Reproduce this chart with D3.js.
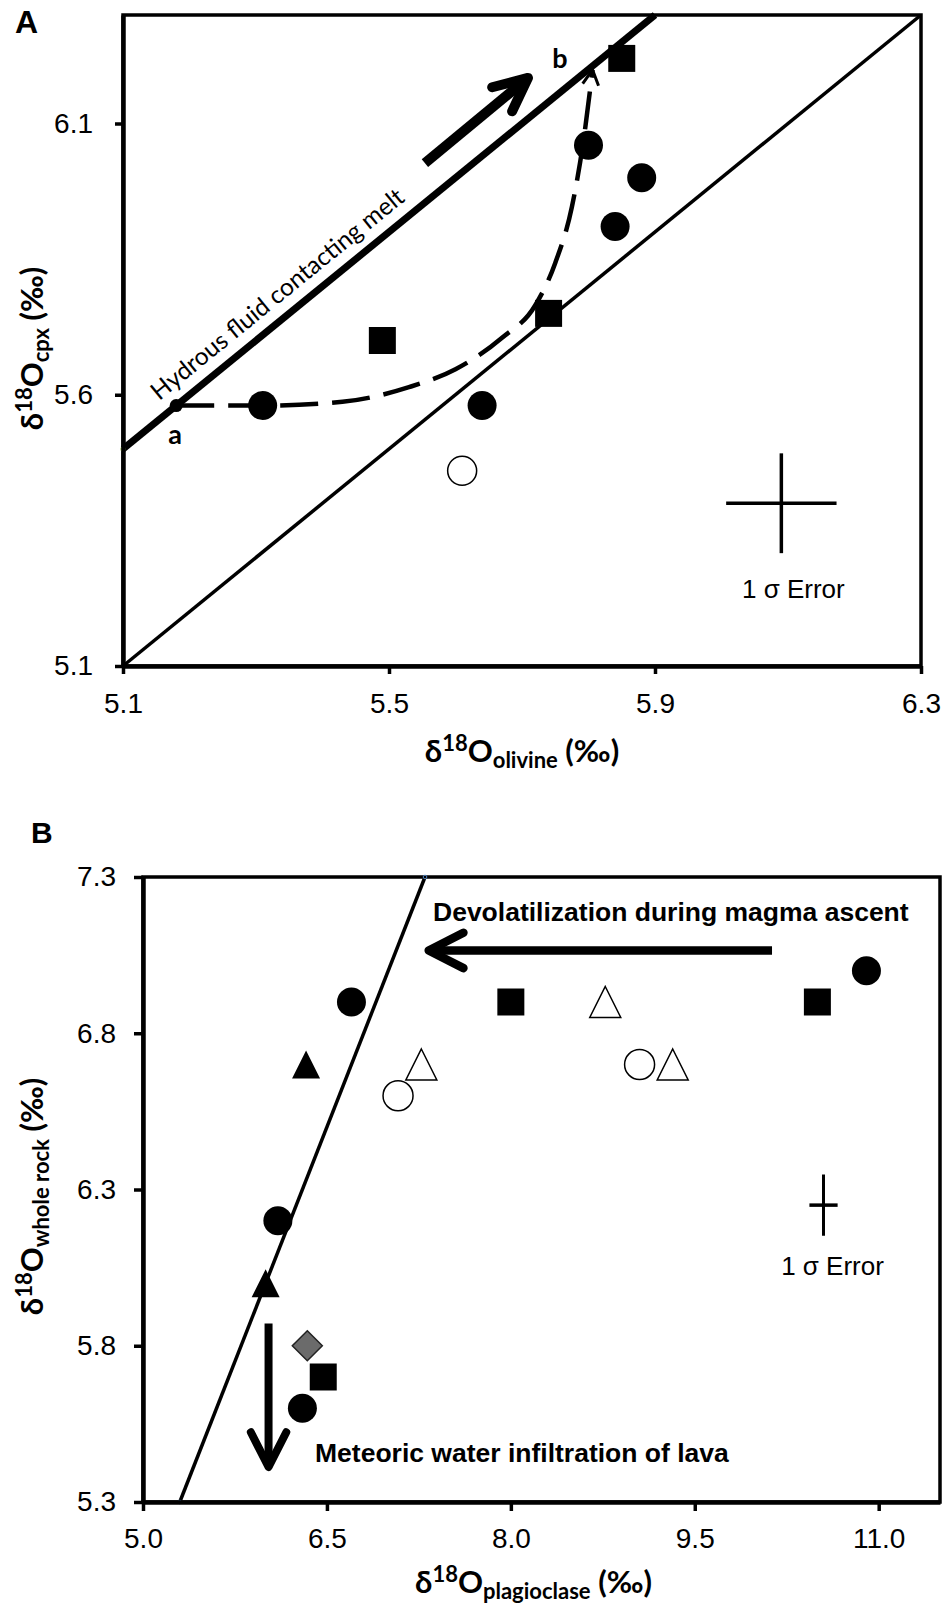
<!DOCTYPE html>
<html><head><meta charset="utf-8">
<script src="https://cdn.jsdelivr.net/npm/d3@7"></script>
<style>body{margin:0;background:#fff}</style>
</head><body>
<svg id="c" width="947" height="1619" xmlns="http://www.w3.org/2000/svg"></svg>
<script>
// ---------- Panel A data ----------
const aXTicks = [5.1, 5.5, 5.9, 6.3];
const aYTicks = [5.1, 5.6, 6.1];
const aFilledCircleX = [5.31, 5.64, 5.80, 5.88, 5.84];
const aFilledCircleY = [5.58, 5.58, 6.06, 6.00, 5.91];
const aSquareX = [5.49, 5.74, 5.85];
const aSquareY = [5.70, 5.75, 6.22];
const aOpenCircleX = [5.61];
const aOpenCircleY = [5.46];
const aOneToOneX = [5.1, 6.3];
const aOneToOneY = [5.1, 6.3];
const aHydrousX = [5.1, 5.9];
const aHydrousY = [5.5, 6.3];
const aPathX = [5.18, 5.31, 5.43, 5.53, 5.60, 5.67, 5.72, 5.75, 5.775, 5.794, 5.806];
const aPathY = [5.58, 5.58, 5.587, 5.614, 5.647, 5.705, 5.765, 5.843, 5.946, 6.082, 6.199];
const aPointA = [5.18, 5.58];
const aErrorCenter = [6.09, 5.40];
const aErrorSize = [0.083, 0.092];
const aArrowFrom = [5.554, 6.027];
const aArrowTo = [5.709, 6.184];

// ---------- Panel B data ----------
const bXTicks = [5.0, 6.5, 8.0, 9.5, 11.0];
const bYTicks = [5.3, 5.8, 6.3, 6.8, 7.3];
const bFilledCircleX = [6.70, 6.10, 6.30, 10.90];
const bFilledCircleY = [6.90, 6.20, 5.60, 7.00];
const bSquareX = [8.0, 10.5, 6.47];
const bSquareY = [6.9, 6.9, 5.7];
const bFilledTriX = [6.33, 6.00];
const bFilledTriY = [6.70, 6.00];
const bOpenTriX = [7.27, 8.77, 9.32];
const bOpenTriY = [6.70, 6.90, 6.70];
const bOpenCircleX = [7.08, 9.05];
const bOpenCircleY = [6.60, 6.70];
const bDiamondX = [6.34];
const bDiamondY = [5.80];
const bLineX = [5.3, 7.3];
const bLineY = [5.3, 7.3];
const bErrorCenter = [10.55, 6.25];
const bErrorSize = [0.115, 0.098];
const bDevolFrom = [10.13, 7.065];
const bDevolTo = [7.33, 7.065];
const bMeteorFrom = [6.024, 5.871];
const bMeteorTo = [6.024, 5.412];

const svg = d3.select('#c');
const AX = "'Liberation Sans', Arial, sans-serif";
const CAL = "Lato, 'Open Sans', sans-serif";

// ---------- helpers ----------
const triSym = {draw(ctx, size){const h=Math.sqrt(size); ctx.moveTo(0,-h/2); ctx.lineTo(h/2,h/2); ctx.lineTo(-h/2,h/2); ctx.closePath();}};
const diaSym = {draw(ctx, size){const h=Math.sqrt(size)/2; ctx.moveTo(0,-h); ctx.lineTo(h,0); ctx.lineTo(0,h); ctx.lineTo(-h,0); ctx.closePath();}};
const sqSym = {draw(ctx, size){const h=Math.sqrt(size)/2; ctx.rect(-h,-h,2*h,2*h);}};

function markers(g, xs, ys, x, y, type, size, fill, stroke, sw){
  const data = xs.map((v,i)=>[v, ys[i]]);
  g.selectAll(null).data(data).enter().append('path')
    .attr('d', d3.symbol().type(type).size(size))
    .attr('transform', d=>`translate(${x(d[0])},${y(d[1])})`)
    .attr('fill', fill).attr('stroke', stroke||'none').attr('stroke-width', sw||0);
}
function headPts(p1, p2, headLen, headAng){
  const dx=p2[0]-p1[0], dy=p2[1]-p1[1], L=Math.hypot(dx,dy);
  const bx=-dx/L, by=-dy/L, a=headAng*Math.PI/180;
  const r1=[p2[0]+headLen*(bx*Math.cos(a)-by*Math.sin(a)), p2[1]+headLen*(bx*Math.sin(a)+by*Math.cos(a))];
  const r2=[p2[0]+headLen*(bx*Math.cos(-a)-by*Math.sin(-a)), p2[1]+headLen*(bx*Math.sin(-a)+by*Math.cos(-a))];
  return [r1, p2, r2];
}
function arrow(g, p1, p2, headLen, headAng, width){
  g.append('path').attr('d', d3.line()([p1,p2])).attr('stroke','#000').attr('stroke-width',width).attr('fill','none');
  g.append('path').attr('d', d3.line()(headPts(p1,p2,headLen,headAng))).attr('stroke','#000').attr('stroke-width',width)
    .attr('fill','none').attr('stroke-linecap','round').attr('stroke-linejoin','round');
}
function richTitle(g, parts, size, subSize){
  const t = g.append('text').attr('font-family', CAL).attr('font-weight','bold').attr('font-size', size).attr('fill','#000');
  let cur = 0;
  parts.forEach(p=>{
    let target = 0, fs = size;
    if(p.sup){ target = -0.36*size; fs = subSize; }
    if(p.sub){ target = 0.2*size; fs = subSize; }
    t.append('tspan').attr('dy', target-cur).attr('font-size', fs).text(p.t);
    cur = target;
  });
  return t;
}
function styleAxis(ax){
  ax.select('.domain').attr('stroke-width', 4.5).attr('stroke','#000');
  ax.selectAll('.tick line').attr('stroke-width', 3.5).attr('stroke','#000');
  ax.selectAll('.tick text').attr('font-family', AX).attr('font-size', 28).attr('fill','#000');
}

// ================= Panel A =================
const xA = d3.scaleLinear().domain([5.1, 6.3]).range([123, 921]);
const yA = d3.scaleLinear().domain([5.1, 6.3]).range([666, 15]);
const gA = svg.append('g');

gA.append('rect').attr('x', xA(5.1)).attr('y', yA(6.3)).attr('width', xA(6.3)-xA(5.1)).attr('height', yA(5.1)-yA(6.3))
  .attr('fill','none').attr('stroke','#000').attr('stroke-width',3.5);

const line = d3.line();
gA.append('path').attr('d', line(aOneToOneX.map((v,i)=>[xA(v), yA(aOneToOneY[i])])))
  .attr('stroke','#000').attr('stroke-width',3.5).attr('fill','none');
gA.append('path').attr('d', line(aHydrousX.map((v,i)=>[xA(v), yA(aHydrousY[i])])))
  .attr('stroke','#000').attr('stroke-width',7).attr('fill','none');
gA.append('circle').attr('cx', xA(aHydrousX[0])).attr('cy', yA(aHydrousY[0])).attr('r',2)
  .attr('fill','none').attr('stroke','#9bbb59').attr('stroke-width',1.2);

// dashed curve a -> b
const curvePts = aPathX.map((v,i)=>[xA(v), yA(aPathY[i])]);
gA.append('path').attr('d', d3.line().curve(d3.curveMonotoneX)(curvePts))
  .attr('stroke','#000').attr('stroke-width',4.5).attr('fill','none').attr('stroke-dasharray','38,14');
{
  const n = curvePts.length;
  gA.append('path').attr('d', d3.line()(headPts(curvePts[n-2], curvePts[n-1], 17, 28)))
    .attr('stroke','#000').attr('stroke-width',3).attr('fill','none');
}

// point a
gA.append('circle').attr('cx', xA(aPointA[0])).attr('cy', yA(aPointA[1])).attr('r', 6.5).attr('fill','#000');
gA.append('text').attr('x', xA(aPointA[0])-1).attr('y', yA(aPointA[1])+38).attr('text-anchor','middle')
  .attr('font-family', CAL).attr('font-weight','bold').attr('font-size',27).text('a');
gA.append('text').attr('x', 560).attr('y', 68).attr('text-anchor','middle')
  .attr('font-family', CAL).attr('font-weight','bold').attr('font-size',27).text('b');

// hydrous fluid label
{
  const ang = Math.atan2(yA(aHydrousY[1])-yA(aHydrousY[0]), xA(aHydrousX[1])-xA(aHydrousX[0]))*180/Math.PI;
  const sx = 5.168, sy = sx + 0.4;
  gA.append('text').attr('transform', `translate(${xA(sx)},${yA(sy)}) rotate(${ang})`)
    .attr('x', 0).attr('y', -14)
    .attr('font-family', CAL).attr('font-size', 24.5).text('Hydrous fluid contacting melt');
}

// thick arrow
arrow(gA, [xA(aArrowFrom[0]), yA(aArrowFrom[1])], [xA(aArrowTo[0]), yA(aArrowTo[1])], 37, 25, 10);

// markers
markers(gA, aOpenCircleX, aOpenCircleY, xA, yA, d3.symbolCircle, Math.PI*14.5*14.5, '#fff', '#000', 1.5);
markers(gA, aFilledCircleX, aFilledCircleY, xA, yA, d3.symbolCircle, Math.PI*14.5*14.5, '#000');
markers(gA, aSquareX, aSquareY, xA, yA, sqSym, 27*27, '#000');

// error cross
{
  const [cx, cy] = aErrorCenter, [ex, ey] = aErrorSize;
  gA.append('path').attr('d', line([[xA(cx-ex), yA(cy)],[xA(cx+ex), yA(cy)]])).attr('stroke','#000').attr('stroke-width',3.5);
  gA.append('path').attr('d', line([[xA(cx), yA(cy-ey)],[xA(cx), yA(cy+ey)]])).attr('stroke','#000').attr('stroke-width',3.5);
  gA.append('text').attr('x', xA(cx)+12).attr('y', yA(cy-ey)+45).attr('text-anchor','middle')
    .attr('font-family', AX).attr('font-size', 26).text('1 σ Error');
}

// axes
const axAx = gA.append('g').attr('transform', `translate(0,${yA(5.1)})`)
  .call(d3.axisBottom(xA).tickValues(aXTicks).tickFormat(d3.format('.1f')).tickSize(8).tickSizeOuter(0).tickPadding(19));
styleAxis(axAx);
const axAy = gA.append('g').attr('transform', `translate(${xA(5.1)},0)`)
  .call(d3.axisLeft(yA).tickValues(aYTicks).tickFormat(d3.format('.1f')).tickSize(8).tickSizeOuter(0).tickPadding(22));
styleAxis(axAy);

gA.append('text').attr('x', 15).attr('y', 33).attr('font-family', AX).attr('font-weight','bold').attr('font-size', 32).text('A');

richTitle(gA, [{t:'δ'},{t:'18',sup:true},{t:'O'},{t:'olivine',sub:true},{t:' (‰)'}], 31, 22)
  .attr('x', (xA(5.1)+xA(6.3))/2).attr('y', 762).attr('text-anchor','middle');
richTitle(gA, [{t:'δ'},{t:'18',sup:true},{t:'O'},{t:'cpx',sub:true},{t:' (‰)'}], 31, 22)
  .attr('transform', `translate(43,${(yA(5.1)+yA(6.3))/2+8}) rotate(-90)`).attr('text-anchor','middle');

// ================= Panel B =================
const xB = d3.scaleLinear().domain([5.0, 11.5]).range([143, 940]);
const yB = d3.scaleLinear().domain([5.3, 7.3]).range([1502, 877]);
const gB = svg.append('g');

gB.append('rect').attr('x', xB(5.0)).attr('y', yB(7.3)).attr('width', xB(11.5)-xB(5.0)).attr('height', yB(5.3)-yB(7.3))
  .attr('fill','none').attr('stroke','#000').attr('stroke-width',3.5);

gB.append('path').attr('d', line(bLineX.map((v,i)=>[xB(v), yB(bLineY[i])])))
  .attr('stroke','#000').attr('stroke-width',3.5).attr('fill','none');
bLineX.forEach((v,i)=>gB.append('circle').attr('cx', xB(v)).attr('cy', yB(bLineY[i])).attr('r',1.8)
  .attr('fill','none').attr('stroke','#4f81bd').attr('stroke-width',1));

markers(gB, bFilledCircleX, bFilledCircleY, xB, yB, d3.symbolCircle, Math.PI*14.5*14.5, '#000');
markers(gB, bSquareX, bSquareY, xB, yB, sqSym, 27*27, '#000');
markers(gB, bFilledTriX, bFilledTriY, xB, yB, triSym, 28*28, '#000');
markers(gB, bOpenTriX, bOpenTriY, xB, yB, triSym, 31*31, '#fff', '#000', 1.5);
markers(gB, bOpenCircleX, bOpenCircleY, xB, yB, d3.symbolCircle, Math.PI*15*15, '#fff', '#000', 1.5);
markers(gB, bDiamondX, bDiamondY, xB, yB, diaSym, 30*30, '#6b6b6b', '#222', 1.5);

// arrows
arrow(gB, [xB(bDevolFrom[0]), yB(bDevolFrom[1])], [xB(bDevolTo[0]), yB(bDevolTo[1])], 39, 27, 8.5);
arrow(gB, [xB(bMeteorFrom[0]), yB(bMeteorFrom[1])], [xB(bMeteorTo[0]), yB(bMeteorTo[1])], 39, 27, 8);

gB.append('text').attr('x', 433).attr('y', 921).attr('font-family', AX).attr('font-weight','bold').attr('font-size', 26.5)
  .text('Devolatilization during magma ascent');
gB.append('text').attr('x', 315).attr('y', 1462).attr('font-family', AX).attr('font-weight','bold').attr('font-size', 26.5)
  .text('Meteoric water infiltration of lava');

// error cross
{
  const [cx, cy] = bErrorCenter, [ex, ey] = bErrorSize;
  gB.append('path').attr('d', line([[xB(cx-ex), yB(cy)],[xB(cx+ex), yB(cy)]])).attr('stroke','#000').attr('stroke-width',3.5);
  gB.append('path').attr('d', line([[xB(cx), yB(cy-ey)],[xB(cx), yB(cy+ey)]])).attr('stroke','#000').attr('stroke-width',3);
  gB.append('text').attr('x', xB(cx)+9).attr('y', 1275).attr('text-anchor','middle')
    .attr('font-family', AX).attr('font-size', 26).text('1 σ Error');
}

const axBx = gB.append('g').attr('transform', `translate(0,${yB(5.3)})`)
  .call(d3.axisBottom(xB).tickValues(bXTicks).tickFormat(d3.format('.1f')).tickSize(9).tickSizeOuter(0).tickPadding(17));
styleAxis(axBx);
const axBy = gB.append('g').attr('transform', `translate(${xB(5.0)},0)`)
  .call(d3.axisLeft(yB).tickValues(bYTicks).tickFormat(d3.format('.1f')).tickSize(9).tickSizeOuter(0).tickPadding(18));
styleAxis(axBy);

gB.append('text').attr('x', 31).attr('y', 843).attr('font-family', AX).attr('font-weight','bold').attr('font-size', 30).text('B');

richTitle(gB, [{t:'δ'},{t:'18',sup:true},{t:'O'},{t:'plagioclase',sub:true},{t:' (‰)'}], 31, 22)
  .attr('x', (xB(5.0)+xB(11.5))/2-8).attr('y', 1593).attr('text-anchor','middle');
richTitle(gB, [{t:'δ'},{t:'18',sup:true},{t:'O'},{t:'whole rock',sub:true},{t:' (‰)'}], 31, 22)
  .attr('transform', `translate(43,${(yB(5.3)+yB(7.3))/2+7}) rotate(-90)`).attr('text-anchor','middle');
</script>
</body></html>
